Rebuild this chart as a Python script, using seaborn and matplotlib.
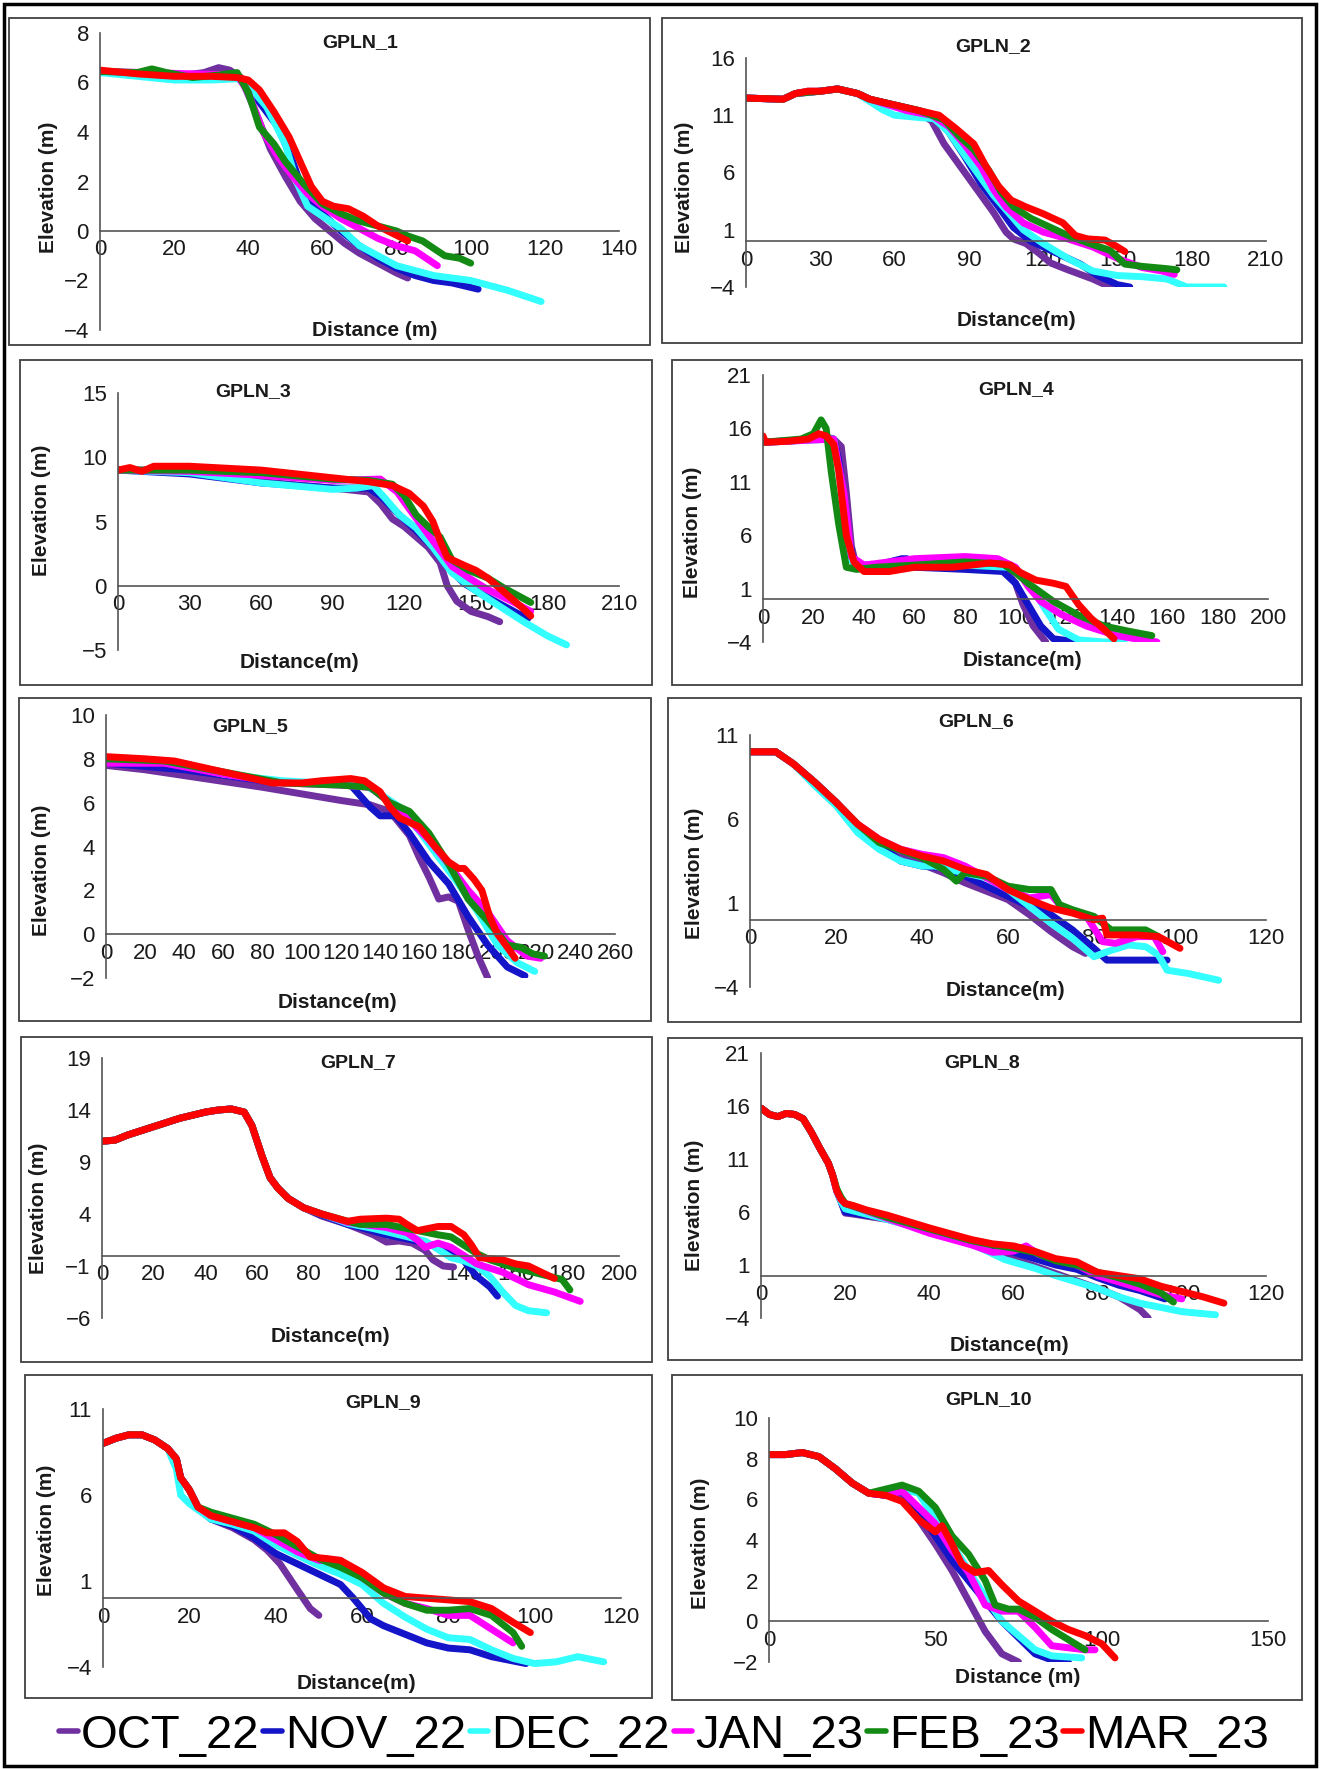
import matplotlib
matplotlib.use("Agg")
import matplotlib.pyplot as plt
from matplotlib.lines import Line2D
from matplotlib.patches import Rectangle
import pandas as pd
import seaborn as sns

# survey months and their colours
MONTHS = ["OCT_22", "NOV_22", "DEC_22", "JAN_23", "FEB_23", "MAR_23"]
COLORS = ["#7030A0", "#1414C8", "#33FFFF", "#FF00FF", "#138A13", "#FF0000"]

# beach profiles: (distance m, elevation m)
GPLN_1 = {
    "OCT_22": [(0, 6.45), (10, 6.35), (20, 6.25), (28, 6.4), (32, 6.6), (35, 6.5), (38, 6.2), (42, 4.8), (46, 3.3), (50, 2.2), (54, 1.2), (58, 0.5), (62, 0), (66, -0.5), (70, -0.9), (75, -1.3), (80, -1.7), (83, -1.9)],
    "NOV_22": [(0, 6.45), (20, 6.2), (30, 6.25), (37, 6.3), (40, 5.8), (44, 5.0), (48, 4.2), (52, 2.8), (55, 1.5), (60, 0.7), (65, 0), (70, -0.6), (75, -1.1), (80, -1.5), (85, -1.8), (90, -2.0), (95, -2.1), (102, -2.35)],
    "DEC_22": [(0, 6.4), (20, 6.1), (30, 6.1), (37, 6.15), (40, 5.9), (45, 5.0), (50, 3.5), (53, 2.0), (56, 1.0), (60, 0.6), (65, 0.1), (70, -0.6), (75, -1.0), (80, -1.4), (90, -1.8), (100, -2.0), (110, -2.4), (119, -2.85)],
    "JAN_23": [(0, 6.45), (37, 6.3), (40, 5.6), (44, 4.0), (48, 3.0), (52, 2.2), (56, 1.5), (60, 1.0), (65, 0.5), (70, 0.1), (75, -0.3), (80, -0.6), (85, -0.8), (88, -1.1), (91, -1.4)],
    "FEB_23": [(0, 6.45), (10, 6.4), (14, 6.55), (18, 6.4), (25, 6.2), (32, 6.3), (37, 6.4), (40, 5.6), (43, 4.2), (47, 3.5), (50, 2.8), (55, 1.9), (60, 1.1), (65, 0.7), (70, 0.4), (75, 0.2), (80, 0.0), (83, -0.2), (87, -0.4), (90, -0.7), (93, -1.0), (97, -1.1), (100, -1.3)],
    "MAR_23": [(0, 6.5), (10, 6.35), (20, 6.25), (30, 6.25), (37, 6.2), (40, 6.1), (43, 5.7), (47, 4.8), (51, 3.8), (54, 2.8), (57, 1.8), (60, 1.2), (63, 1.0), (67, 0.9), (71, 0.6), (75, 0.2), (79, -0.1), (83, -0.4)],
}
GPLN_2 = {
    "OCT_22": [(0, 12.5), (15, 12.4), (20, 12.9), (25, 13.1), (30, 13.1), (37, 13.3), (45, 12.9), (50, 12.4), (60, 11.8), (70, 11.2), (75, 10.5), (80, 8.5), (85, 7.0), (90, 5.5), (95, 4.0), (100, 2.5), (105, 0.8), (108, 0.2), (113, -0.2), (118, -1.0), (123, -1.9), (130, -2.5), (140, -3.3), (147, -4.0)],
    "NOV_22": [(0, 12.5), (15, 12.4), (20, 12.9), (30, 13.1), (37, 13.3), (45, 12.9), (50, 12.4), (60, 11.9), (70, 11.4), (76, 11.0), (82, 9.5), (88, 7.5), (95, 5.0), (102, 3.0), (108, 1.2), (115, 0), (125, -1.0), (135, -2.0), (142, -3.0), (150, -3.8), (155, -4.0)],
    "DEC_22": [(0, 12.5), (15, 12.4), (20, 12.9), (30, 13.1), (37, 13.3), (45, 12.9), (50, 12.2), (55, 11.5), (60, 11.0), (70, 10.8), (76, 10.7), (82, 9.5), (88, 7.6), (95, 5.5), (100, 4.0), (106, 2.5), (112, 1.0), (120, -0.2), (130, -1.5), (140, -2.6), (150, -3.0), (160, -3.1), (170, -3.3), (178, -4.0), (193, -4.0)],
    "JAN_23": [(0, 12.5), (15, 12.4), (20, 12.9), (30, 13.1), (37, 13.3), (45, 12.9), (50, 12.4), (65, 11.4), (75, 11.0), (82, 10.0), (88, 8.5), (95, 6.5), (100, 4.5), (105, 3.0), (112, 1.6), (120, 0.8), (130, 0.2), (140, -0.5), (150, -1.5), (160, -2.3), (168, -2.6), (173, -2.9)],
    "FEB_23": [(0, 12.5), (15, 12.4), (20, 12.9), (30, 13.1), (37, 13.3), (45, 12.9), (50, 12.4), (70, 11.4), (80, 10.6), (86, 9.2), (92, 8.0), (98, 6.2), (103, 4.3), (108, 3.0), (115, 2.0), (122, 1.3), (130, 0.5), (140, -0.3), (147, -0.8), (153, -2.0), (160, -2.2), (170, -2.4), (174, -2.5)],
    "MAR_23": [(0, 12.5), (15, 12.4), (20, 12.9), (25, 13.1), (30, 13.1), (37, 13.3), (45, 12.9), (50, 12.4), (70, 11.4), (78, 11.0), (85, 9.8), (92, 8.5), (97, 6.5), (102, 4.8), (107, 3.6), (113, 3.0), (120, 2.4), (128, 1.6), (133, 0.5), (138, 0.2), (145, 0.1), (150, -0.5), (153, -0.9)],
}
GPLN_3 = {
    "OCT_22": [(0, 9.0), (15, 9.0), (30, 8.8), (60, 8.1), (90, 7.6), (100, 7.4), (105, 7.3), (110, 6.4), (115, 5.2), (120, 4.6), (125, 3.8), (130, 3.0), (135, 1.8), (138, 0.0), (142, -1.2), (148, -2.0), (155, -2.4), (160, -2.8)],
    "NOV_22": [(0, 9.0), (30, 8.7), (60, 8.0), (90, 7.6), (105, 7.6), (110, 7.0), (118, 5.5), (125, 4.3), (132, 3.0), (138, 1.5), (145, 0.2), (152, -0.6), (160, -1.4), (168, -2.2), (172, -2.5)],
    "DEC_22": [(0, 9.0), (30, 8.8), (60, 8.0), (90, 7.5), (100, 7.6), (107, 7.8), (112, 6.8), (118, 5.5), (125, 4.5), (132, 3.0), (140, 1.0), (150, -0.4), (160, -1.6), (170, -2.8), (180, -3.9), (188, -4.6)],
    "JAN_23": [(0, 9.0), (30, 8.9), (60, 8.6), (90, 8.2), (110, 8.3), (117, 7.3), (122, 6.0), (128, 4.5), (134, 3.0), (140, 1.5), (148, 0.5), (155, -0.3), (165, -1.2), (173, -2.0)],
    "FEB_23": [(0, 9.0), (30, 9.0), (60, 8.8), (90, 8.3), (105, 8.2), (115, 7.9), (120, 7.0), (125, 5.5), (130, 4.6), (135, 3.8), (140, 2.0), (147, 1.2), (155, 0.6), (162, -0.2), (168, -0.8), (173, -1.3)],
    "MAR_23": [(0, 9.0), (5, 9.2), (10, 8.9), (15, 9.3), (30, 9.3), (60, 9.0), (90, 8.4), (105, 8.1), (115, 7.8), (122, 7.2), (128, 6.2), (132, 5.0), (135, 3.5), (138, 2.2), (145, 1.6), (150, 1.2), (155, 0.6), (160, -0.2), (165, -1.0), (170, -1.8), (173, -2.35)],
}
GPLN_4 = {
    "OCT_22": [(0, 14.7), (10, 14.8), (20, 15.0), (25, 15.2), (28, 15.0), (31, 14.3), (33, 10.0), (35, 5.0), (37, 3.0), (45, 2.8), (60, 3.2), (80, 3.1), (95, 3.0), (100, 1.5), (103, -0.5), (107, -2.5), (112, -4.0)],
    "NOV_22": [(0, 14.7), (20, 15.0), (28, 15.0), (30, 13.0), (33, 7.0), (36, 3.2), (45, 3.2), (55, 3.8), (57, 3.8), (60, 3.0), (80, 2.8), (95, 2.6), (100, 1.5), (105, -0.5), (110, -2.5), (115, -3.7), (125, -4.0)],
    "DEC_22": [(0, 14.7), (28, 15.0), (30, 12.0), (34, 4.0), (37, 3.0), (60, 3.3), (80, 3.2), (97, 3.0), (103, 2.2), (108, 0.5), (112, -1.0), (117, -2.8), (125, -3.8), (135, -4.0), (143, -4.0)],
    "JAN_23": [(0, 14.7), (28, 15.0), (32, 10.0), (35, 4.0), (40, 3.2), (60, 3.8), (80, 4.0), (93, 3.8), (100, 3.0), (105, 1.2), (110, -0.2), (118, -1.4), (128, -2.5), (140, -3.4), (150, -3.8), (156, -4.0)],
    "FEB_23": [(0, 14.7), (15, 15.0), (20, 15.5), (23, 16.8), (25, 16.0), (27, 12.0), (30, 7.0), (33, 3.0), (37, 2.8), (45, 3.0), (60, 3.2), (80, 3.5), (95, 3.3), (100, 2.5), (105, 1.5), (115, -0.2), (125, -1.5), (135, -2.5), (145, -3.0), (154, -3.4)],
    "MAR_23": [(0, 15.3), (1, 14.7), (10, 14.8), (18, 15.0), (22, 15.5), (25, 15.3), (28, 14.5), (30, 12.0), (33, 6.0), (36, 3.5), (40, 2.6), (50, 2.6), (60, 3.0), (75, 3.0), (90, 3.4), (98, 3.2), (102, 2.5), (108, 1.8), (115, 1.5), (120, 1.2), (125, -0.5), (130, -1.8), (135, -2.8), (139, -3.7)],
}
GPLN_5 = {
    "OCT_22": [(0, 7.7), (20, 7.5), (50, 7.1), (80, 6.7), (100, 6.4), (120, 6.1), (135, 5.9), (145, 5.6), (155, 4.5), (160, 3.5), (165, 2.6), (170, 1.6), (175, 1.7), (180, 1.5), (185, 0.2), (190, -1.0), (195, -2.0)],
    "NOV_22": [(0, 7.8), (40, 7.5), (80, 7.0), (100, 6.9), (125, 6.8), (130, 6.3), (135, 5.8), (140, 5.4), (148, 5.4), (155, 4.6), (165, 3.3), (175, 2.3), (185, 0.8), (195, -0.5), (205, -1.5), (214, -1.9)],
    "DEC_22": [(0, 7.9), (30, 7.9), (60, 7.3), (90, 7.0), (110, 6.9), (130, 6.9), (140, 6.4), (150, 5.8), (160, 4.7), (170, 3.5), (180, 2.3), (190, 1.0), (200, -0.5), (210, -1.3), (219, -1.7)],
    "JAN_23": [(0, 7.8), (30, 7.8), (60, 7.3), (90, 6.9), (120, 6.8), (135, 6.7), (145, 6.0), (155, 5.2), (165, 4.3), (175, 3.2), (185, 2.0), (195, 1.0), (205, -0.3), (215, -1.0), (222, -1.1)],
    "FEB_23": [(0, 8.0), (30, 7.9), (60, 7.4), (90, 6.9), (120, 6.8), (135, 6.7), (145, 6.0), (155, 5.6), (165, 4.6), (175, 3.2), (185, 1.6), (195, 0.6), (205, -0.5), (212, -0.6), (218, -0.9), (224, -1.0)],
    "MAR_23": [(0, 8.1), (20, 8.0), (35, 7.9), (50, 7.6), (70, 7.2), (85, 6.9), (100, 6.9), (110, 7.0), (125, 7.1), (132, 7.0), (140, 6.5), (145, 5.8), (150, 5.3), (160, 4.9), (168, 4.0), (175, 3.3), (180, 3.0), (183, 3.0), (188, 2.5), (192, 2.0), (196, 0.8), (200, 0.0), (205, -0.6), (209, -1.1)],
}
GPLN_6 = {
    "OCT_22": [(0, 10.0), (6, 10.0), (10, 9.3), (15, 8.2), (20, 7.0), (25, 5.6), (30, 4.7), (35, 4.0), (40, 3.3), (45, 2.8), (50, 2.2), (55, 1.7), (60, 1.2), (65, 0.3), (70, -0.7), (75, -1.6), (78, -2.0)],
    "NOV_22": [(0, 10.0), (6, 10.0), (10, 9.3), (15, 8.2), (20, 7.0), (25, 5.6), (30, 4.5), (35, 3.5), (40, 3.2), (45, 3.1), (50, 2.6), (55, 2.0), (60, 1.4), (65, 0.8), (70, 0.3), (75, -0.6), (80, -1.7), (83, -2.4), (90, -2.4), (97, -2.4)],
    "DEC_22": [(0, 10.0), (6, 10.0), (10, 9.3), (15, 8.0), (20, 6.8), (25, 5.2), (30, 4.2), (35, 3.5), (40, 3.2), (43, 3.2), (48, 2.9), (55, 2.5), (60, 1.8), (65, 0.8), (70, -0.2), (75, -1.1), (80, -2.2), (83, -1.9), (88, -1.5), (92, -1.6), (95, -2.1), (97, -3.0), (102, -3.2), (109, -3.6)],
    "JAN_23": [(0, 10.0), (6, 10.0), (10, 9.3), (15, 8.2), (20, 7.0), (25, 5.7), (30, 4.8), (35, 4.2), (40, 3.9), (45, 3.7), (50, 3.2), (55, 2.5), (60, 1.8), (65, 1.3), (70, 1.5), (73, 0.6), (78, 0.3), (82, -1.3), (85, -1.4), (90, -1.0), (94, -1.0), (96, -1.9)],
    "FEB_23": [(0, 10.0), (6, 10.0), (10, 9.3), (15, 8.2), (20, 7.0), (25, 5.7), (30, 4.6), (40, 3.7), (45, 3.0), (48, 2.3), (50, 2.8), (55, 2.6), (60, 2.0), (65, 1.8), (70, 1.8), (72, 0.9), (75, 0.6), (80, 0.2), (82, -0.2), (84, -0.6), (92, -0.6), (95, -1.0)],
    "MAR_23": [(0, 10.0), (6, 10.0), (10, 9.3), (15, 8.2), (20, 7.0), (25, 5.7), (30, 4.8), (35, 4.2), (40, 3.8), (45, 3.5), (50, 3.0), (55, 2.7), (60, 1.8), (65, 1.2), (70, 0.7), (75, 0.4), (80, 0.0), (82, 0.1), (83, -0.9), (90, -0.9), (95, -1.0), (100, -1.7)],
}
GPLN_7 = {
    "OCT_22": [(0, 11.0), (5, 11.1), (10, 11.6), (20, 12.4), (30, 13.2), (40, 13.8), (45, 14.0), (50, 14.1), (55, 13.8), (58, 12.5), (60, 11.0), (62, 9.5), (65, 7.5), (68, 6.5), (72, 5.5), (78, 4.6), (85, 3.8), (95, 3.0), (100, 2.5), (105, 2.0), (110, 1.3), (115, 1.4), (120, 1.2), (125, 0.5), (128, -0.4), (132, -1.0), (136, -1.1)],
    "NOV_22": [(0, 11.0), (5, 11.1), (10, 11.6), (20, 12.4), (30, 13.2), (40, 13.8), (45, 14.0), (50, 14.1), (55, 13.8), (58, 12.5), (60, 11.0), (62, 9.5), (65, 7.5), (68, 6.5), (72, 5.5), (78, 4.6), (85, 3.9), (95, 3.0), (100, 2.7), (110, 2.0), (120, 1.5), (128, 1.0), (135, 0.3), (140, -0.5), (145, -2.0), (150, -3.0), (153, -3.9)],
    "DEC_22": [(0, 11.0), (5, 11.1), (10, 11.6), (20, 12.4), (30, 13.2), (40, 13.8), (45, 14.0), (50, 14.1), (55, 13.8), (58, 12.5), (60, 11.0), (62, 9.5), (65, 7.5), (68, 6.5), (72, 5.5), (78, 4.6), (85, 4.0), (95, 3.1), (105, 2.6), (115, 2.0), (125, 1.4), (130, 0.6), (135, -0.2), (140, -0.5), (145, -1.0), (150, -2.0), (155, -3.5), (160, -4.8), (165, -5.3), (172, -5.5)],
    "JAN_23": [(0, 11.0), (5, 11.1), (10, 11.6), (20, 12.4), (30, 13.2), (40, 13.8), (45, 14.0), (50, 14.1), (55, 13.8), (58, 12.5), (60, 11.0), (62, 9.5), (65, 7.5), (68, 6.5), (72, 5.5), (78, 4.6), (85, 4.0), (95, 3.2), (110, 2.7), (118, 2.2), (122, 1.5), (125, 0.8), (130, 1.2), (135, 0.8), (140, 0.0), (145, -0.8), (155, -1.6), (165, -2.8), (175, -3.5), (185, -4.4)],
    "FEB_23": [(0, 11.0), (5, 11.1), (10, 11.6), (20, 12.4), (30, 13.2), (40, 13.8), (45, 14.0), (50, 14.1), (55, 13.8), (58, 12.5), (60, 11.0), (62, 9.5), (65, 7.5), (68, 6.5), (72, 5.5), (78, 4.6), (85, 4.0), (95, 3.3), (100, 3.0), (110, 3.0), (120, 2.5), (130, 2.0), (135, 1.8), (140, 1.0), (145, 0.2), (150, -0.4), (160, -1.2), (170, -1.8), (178, -2.3), (181, -3.3)],
    "MAR_23": [(0, 11.0), (5, 11.1), (10, 11.6), (20, 12.4), (30, 13.2), (40, 13.8), (45, 14.0), (50, 14.1), (55, 13.8), (58, 12.5), (60, 11.0), (62, 9.5), (65, 7.5), (68, 6.5), (72, 5.5), (78, 4.6), (85, 4.0), (95, 3.3), (100, 3.5), (110, 3.6), (115, 3.5), (118, 3.0), (122, 2.4), (130, 2.8), (135, 2.8), (140, 2.0), (143, 1.0), (146, -0.2), (150, -0.3), (155, -0.4), (160, -0.8), (165, -1.0), (170, -1.6), (175, -2.2)],
}
GPLN_8 = {
    "OCT_22": [(0, 15.8), (2, 15.2), (4, 15.0), (6, 15.3), (8, 15.2), (10, 14.8), (12, 13.5), (14, 12.0), (16, 10.6), (17, 9.5), (18, 8.0), (19, 7.0), (20, 5.9), (22, 5.8), (30, 5.3), (40, 4.2), (50, 3.0), (60, 1.6), (70, 0.2), (80, -1.2), (85, -2.0), (90, -3.2), (92, -4.0)],
    "NOV_22": [(0, 15.8), (2, 15.2), (4, 15.0), (6, 15.3), (8, 15.2), (10, 14.8), (12, 13.5), (14, 12.0), (16, 10.6), (17, 9.5), (18, 8.0), (19, 7.0), (20, 6.0), (30, 5.4), (40, 4.4), (50, 3.3), (60, 2.2), (70, 1.0), (75, 0.6), (80, -0.2), (85, -0.9), (90, -1.4), (96, -2.2)],
    "DEC_22": [(0, 15.8), (2, 15.2), (4, 15.0), (6, 15.3), (8, 15.2), (10, 14.8), (12, 13.5), (14, 12.0), (16, 10.6), (17, 9.5), (18, 8.0), (19, 7.0), (20, 6.3), (30, 5.3), (40, 4.2), (50, 3.0), (58, 1.5), (65, 0.7), (70, 0.0), (80, -1.2), (85, -2.0), (90, -2.6), (100, -3.4), (108, -3.7)],
    "JAN_23": [(0, 15.8), (2, 15.2), (4, 15.0), (6, 15.3), (8, 15.2), (10, 14.8), (12, 13.5), (14, 12.0), (16, 10.6), (17, 9.5), (18, 8.0), (19, 7.2), (20, 6.8), (30, 5.4), (40, 4.0), (50, 2.9), (55, 2.2), (60, 2.3), (63, 2.8), (66, 2.0), (70, 1.5), (75, 1.0), (80, 0.0), (85, -0.6), (90, -1.2), (95, -1.8), (100, -2.2)],
    "FEB_23": [(0, 15.8), (2, 15.2), (4, 15.0), (6, 15.3), (8, 15.2), (10, 14.8), (12, 13.5), (14, 12.0), (16, 10.6), (17, 9.5), (18, 8.2), (19, 7.4), (20, 6.8), (30, 5.5), (40, 4.4), (50, 3.3), (55, 2.9), (60, 2.6), (65, 2.2), (70, 1.4), (75, 1.0), (80, 0.3), (85, -0.2), (90, -0.8), (95, -1.6), (98, -2.5)],
    "MAR_23": [(0, 15.8), (2, 15.2), (4, 15.0), (6, 15.3), (8, 15.2), (10, 14.8), (12, 13.5), (14, 12.0), (16, 10.6), (17, 9.5), (18, 8.0), (19, 7.2), (20, 6.8), (22, 6.6), (25, 6.2), (30, 5.7), (40, 4.5), (50, 3.4), (55, 3.0), (60, 2.8), (65, 2.3), (70, 1.6), (75, 1.3), (80, 0.3), (85, 0.0), (90, -0.3), (95, -1.0), (100, -1.5), (105, -2.0), (110, -2.6)],
}
GPLN_9 = {
    "OCT_22": [(0, 9.0), (3, 9.3), (6, 9.5), (9, 9.5), (12, 9.2), (15, 8.7), (17, 8.1), (18, 7.0), (20, 6.3), (22, 5.3), (25, 4.6), (30, 4.1), (35, 3.4), (38, 2.8), (41, 2.0), (45, 0.5), (48, -0.6), (50, -1.0)],
    "NOV_22": [(0, 9.0), (3, 9.3), (6, 9.5), (9, 9.5), (12, 9.2), (15, 8.7), (17, 8.1), (18, 7.0), (20, 6.3), (22, 5.3), (25, 4.6), (30, 4.2), (35, 3.5), (40, 2.6), (45, 2.0), (50, 1.4), (55, 0.8), (58, 0.0), (62, -1.2), (65, -1.6), (70, -2.1), (75, -2.6), (80, -2.9), (85, -3.0), (90, -3.4), (98, -3.8)],
    "DEC_22": [(0, 9.0), (3, 9.3), (6, 9.5), (9, 9.5), (12, 9.2), (15, 8.7), (17, 7.5), (18, 6.0), (20, 5.5), (25, 4.6), (30, 4.3), (35, 3.9), (40, 3.1), (45, 2.5), (50, 1.9), (55, 1.4), (60, 0.8), (65, -0.3), (70, -1.1), (75, -1.8), (80, -2.3), (85, -2.4), (90, -3.0), (95, -3.5), (100, -3.8), (105, -3.7), (110, -3.4), (116, -3.7)],
    "JAN_23": [(0, 9.0), (3, 9.3), (6, 9.5), (9, 9.5), (12, 9.2), (15, 8.7), (17, 8.1), (18, 7.0), (20, 6.3), (22, 5.3), (25, 4.8), (35, 4.1), (40, 3.4), (45, 2.7), (50, 2.2), (55, 2.2), (60, 1.2), (65, 0.3), (70, -0.3), (75, -0.6), (80, -1.0), (85, -1.0), (90, -1.8), (95, -2.6)],
    "FEB_23": [(0, 9.0), (3, 9.3), (6, 9.5), (9, 9.5), (12, 9.2), (15, 8.7), (17, 8.1), (18, 7.0), (20, 6.3), (22, 5.3), (25, 5.0), (35, 4.3), (40, 3.7), (45, 3.0), (50, 2.3), (55, 1.8), (60, 1.2), (65, 0.3), (70, -0.3), (75, -0.7), (80, -0.7), (85, -0.6), (90, -1.0), (95, -2.0), (97, -2.8)],
    "MAR_23": [(0, 9.0), (3, 9.3), (6, 9.5), (9, 9.5), (12, 9.2), (15, 8.7), (17, 8.1), (18, 7.0), (20, 6.3), (22, 5.3), (25, 4.8), (35, 4.1), (38, 3.8), (42, 3.8), (45, 3.3), (48, 2.4), (52, 2.3), (55, 2.2), (60, 1.5), (65, 0.6), (70, 0.1), (75, 0.0), (80, -0.1), (85, -0.2), (90, -0.6), (95, -1.4), (99, -2.0)],
}
GPLN_10 = {
    "OCT_22": [(0, 8.2), (5, 8.2), (10, 8.3), (15, 8.1), (20, 7.5), (25, 6.8), (30, 6.3), (35, 6.2), (40, 6.1), (45, 5.0), (50, 3.8), (55, 2.5), (60, 1.0), (65, -0.5), (70, -1.6), (75, -2.0)],
    "NOV_22": [(0, 8.2), (5, 8.2), (10, 8.3), (15, 8.1), (20, 7.5), (25, 6.8), (30, 6.3), (35, 6.2), (40, 6.4), (45, 5.4), (50, 4.2), (55, 3.0), (60, 2.0), (65, 1.0), (70, 0.0), (75, -0.8), (80, -1.6), (85, -1.9), (90, -2.0)],
    "DEC_22": [(0, 8.2), (5, 8.2), (10, 8.3), (15, 8.1), (20, 7.5), (25, 6.8), (30, 6.3), (35, 6.3), (40, 6.5), (45, 6.3), (50, 5.0), (55, 3.8), (60, 2.5), (65, 1.2), (70, 0.0), (75, -0.7), (80, -1.4), (85, -1.7), (94, -1.8)],
    "JAN_23": [(0, 8.2), (5, 8.2), (10, 8.3), (15, 8.1), (20, 7.5), (25, 6.8), (30, 6.3), (35, 6.2), (40, 6.4), (45, 5.6), (50, 4.8), (55, 3.5), (60, 2.4), (65, 0.8), (70, 0.5), (75, 0.5), (80, -0.3), (85, -1.2), (90, -1.3), (95, -1.4), (98, -1.4)],
    "FEB_23": [(0, 8.2), (5, 8.2), (10, 8.3), (15, 8.1), (20, 7.5), (25, 6.8), (30, 6.3), (35, 6.5), (40, 6.7), (45, 6.4), (50, 5.6), (55, 4.2), (60, 3.3), (65, 2.0), (68, 0.8), (72, 0.6), (75, 0.6), (80, 0.2), (85, -0.4), (90, -0.9), (95, -1.4)],
    "MAR_23": [(0, 8.2), (5, 8.2), (10, 8.3), (15, 8.1), (20, 7.5), (25, 6.8), (30, 6.3), (35, 6.2), (40, 5.9), (45, 5.0), (50, 4.4), (52, 4.7), (55, 3.8), (58, 2.8), (62, 2.4), (66, 2.5), (70, 1.8), (75, 1.0), (80, 0.5), (85, 0.0), (90, -0.4), (95, -0.7), (100, -1.1), (104, -1.8)],
}

PROFILES = [GPLN_1, GPLN_2, GPLN_3, GPLN_4, GPLN_5, GPLN_6, GPLN_7, GPLN_8, GPLN_9, GPLN_10]
TITLES = ["GPLN_1", "GPLN_2", "GPLN_3", "GPLN_4", "GPLN_5", "GPLN_6", "GPLN_7", "GPLN_8", "GPLN_9", "GPLN_10"]
X_TICKS = [range(0, 141, 20), range(0, 211, 30), range(0, 211, 30), range(0, 201, 20), range(0, 261, 20),
           range(0, 121, 20), range(0, 201, 20), range(0, 121, 20), range(0, 121, 20), range(0, 151, 50)]
Y_TICKS = [range(-4, 9, 2), range(-4, 17, 5), range(-5, 16, 5), range(-4, 22, 5), range(-2, 11, 2),
           range(-4, 12, 5), range(-6, 20, 5), range(-4, 22, 5), range(-4, 12, 5), range(-2, 11, 2)]
X_LABELS = ["Distance (m)"] + ["Distance(m)"] * 8 + ["Distance (m)"]

# layout in pixels of the 1320x1769 image
W, H = 1320, 1769
BOXES = [(9, 18, 650, 345), (662, 18, 1302, 343), (20, 360, 652, 685), (672, 360, 1302, 685),
         (19, 698, 651, 1021), (668, 698, 1301, 1022), (21, 1037, 652, 1362), (668, 1038, 1302, 1360),
         (25, 1375, 652, 1698), (672, 1375, 1302, 1700)]
AXES = [(100, 33, 619, 330), (746, 58, 1266, 287), (118, 393, 619, 650), (763, 375, 1268, 642),
        (106, 715, 615, 978), (750, 735, 1266, 987), (102, 1058, 619, 1318), (761, 1053, 1266, 1318),
        (103, 1409, 621, 1667), (769, 1418, 1268, 1662)]
TITLE_XY = [(360, 43), (993, 47), (253, 392), (1016, 390), (250, 727), (976, 722), (358, 1063), (982, 1063),
            (383, 1403), (988, 1400)]
XLABEL_XY = [(375, 330), (1016, 320), (299, 662), (1022, 660), (337, 1002), (1005, 990), (330, 1337),
             (1009, 1345), (356, 1683), (1018, 1677)]
YLABEL_XY = [(48, 187), (685, 187), (42, 510), (692, 532), (42, 870), (694, 873), (38, 1208), (694, 1205),
             (46, 1530), (700, 1543)]

sns.set_style("white")
plt.rcParams["font.family"] = ["Liberation Sans", "DejaVu Sans"]
plt.rcParams["text.color"] = "black"

fig = plt.figure(figsize=(W / 100, H / 100), dpi=100)


def fx(x):
    return x / W


def fy(y):
    return 1 - y / H


fig.patches.append(Rectangle((fx(4), fy(1766)), fx(1312), 1762 / H, transform=fig.transFigure,
                             fill=False, edgecolor="black", linewidth=2.5))

for i, prof in enumerate(PROFILES):
    bl, bt, br, bb = BOXES[i]
    fig.patches.append(Rectangle((fx(bl), fy(bb)), fx(br - bl), (bb - bt) / H, transform=fig.transFigure,
                                 fill=False, edgecolor="#404040", linewidth=1.3))

    al, at, ar, ab = AXES[i]
    ax = fig.add_axes([fx(al), fy(ab), fx(ar - al), (ab - at) / H])
    ax.patch.set_alpha(0)

    rows = [(m, x, y) for m in MONTHS for x, y in prof[m]]
    df = pd.DataFrame(rows, columns=["month", "dist", "elev"])
    sns.lineplot(data=df, x="dist", y="elev", hue="month", hue_order=MONTHS, palette=COLORS,
                 estimator=None, sort=False, linewidth=5, legend=False, ax=ax,
                 solid_capstyle="round", solid_joinstyle="round")

    xt, yt = list(X_TICKS[i]), list(Y_TICKS[i])
    ax.set_xlim(xt[0], xt[-1])
    ax.set_ylim(yt[0], yt[-1])
    ax.set_xticks(xt)
    ax.set_yticks(yt)
    ax.set_xlabel("")
    ax.set_ylabel("")
    ax.spines["top"].set_visible(False)
    ax.spines["right"].set_visible(False)
    ax.spines["bottom"].set_position(("data", 0))
    for s in ("left", "bottom"):
        ax.spines[s].set_color("#555555")
        ax.spines[s].set_linewidth(1.2)
    ax.tick_params(axis="x", direction="inout", length=8, width=1.2, color="#555555",
                   labelsize=16, pad=2, labelcolor="#1a1a1a")
    ax.tick_params(axis="y", direction="out", length=5, width=1.2, color="#555555",
                   labelsize=16, pad=3, labelcolor="#1a1a1a")

    fig.text(fx(TITLE_XY[i][0]), fy(TITLE_XY[i][1]), TITLES[i], ha="center", va="center",
             fontsize=14, fontweight="bold", color="#1a1a1a")
    fig.text(fx(XLABEL_XY[i][0]), fy(XLABEL_XY[i][1]), X_LABELS[i], ha="center", va="center",
             fontsize=15, fontweight="bold", color="#1a1a1a")
    fig.text(fx(YLABEL_XY[i][0]), fy(YLABEL_XY[i][1]), "Elevation (m)", ha="center", va="center",
             rotation=90, fontsize=15, fontweight="bold", color="#1a1a1a")

handles = [Line2D([0], [0], color=c, linewidth=4) for c in COLORS]
fig.legend(handles, MONTHS, loc="center", bbox_to_anchor=(fx(664), fy(1736)), ncol=6, frameon=False,
           fontsize=34, handlelength=0.4, handletextpad=0.06, columnspacing=0.08, borderpad=0,
           labelcolor="black")

fig.savefig("out.png", dpi=100)
